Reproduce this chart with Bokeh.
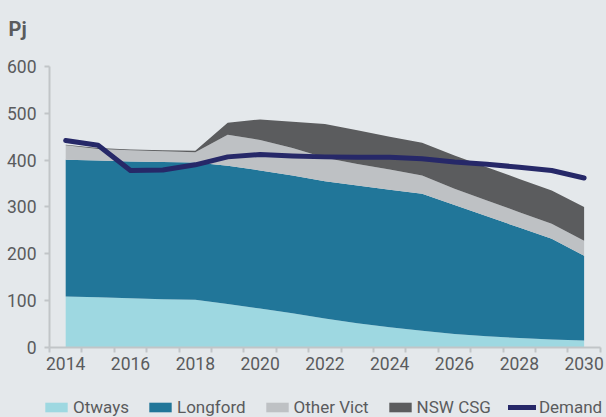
from bokeh.plotting import figure
from bokeh.models import ColumnDataSource, FixedTicker, Legend, LegendItem, Range1d, Label
from bokeh.core.properties import value
from bokeh.embed import file_html
from bokeh.resources import INLINE

# ---- data (PJ) ----
years = list(range(2014, 2031))
otways = [109, 107, 105, 103, 102, 93, 83, 73, 62, 52, 43, 36, 29, 24, 20, 17, 15]
longford = [292, 292, 292, 293, 293, 295, 295, 294, 293, 294, 294, 292, 275, 256, 236, 215, 181]
other_vict = [31, 25, 24, 23, 22, 66, 65, 59, 50, 46, 43, 39, 35, 34, 33, 32, 32]
nsw_csg = [1, 2, 2, 2, 3, 26, 44, 56, 72, 72, 70, 70, 71, 71, 71, 71, 72]
demand = [442, 432, 378, 379, 390, 407, 412, 409, 407, 406, 406, 403, 396, 391, 385, 378, 362]
series_names = ["Otways", "Longford", "Other Vict", "NSW CSG"]
y_ticks = [0, 100, 200, 300, 400, 500, 600]
unit_label = "Pj"

# ---- style ----
BG = "#e4e8eb"
AX = "#c1c5c8"
TXT = "#5a5b5d"
FONT = "Roboto"
COLORS = ["#9ed8e1", "#217699", "#bec1c4", "#5b5c5e"]
NAVY = "#262868"

src = ColumnDataSource(dict(year=years, otways=otways, longford=longford,
                            other_vict=other_vict, nsw_csg=nsw_csg, demand=demand))

X0 = years[0] - 0.5
p = figure(width=606, height=417, output_backend="svg", toolbar_location=None,
           x_range=Range1d(2011.988, 2030.691), y_range=Range1d(-149.5, 740.9),
           min_border_left=0, min_border_right=0, min_border_top=0, min_border_bottom=0,
           background_fill_color=BG, border_fill_color=BG, outline_line_color=None)
p.xgrid.visible = False
p.ygrid.visible = False

areas = p.varea_stack(stackers=["otways", "longford", "other_vict", "nsw_csg"], x="year",
                      color=COLORS, source=src)
dl = p.line("year", "demand", source=src, line_width=5, line_color=NAVY,
            line_join="round", line_cap="round")

# x axis (drawn at y = 0)
p.xaxis.fixed_location = 0
p.xaxis.bounds = (X0, years[-1] + 0.5)
p.xaxis.ticker = FixedTicker(ticks=years[::2], minor_ticks=[y - 0.5 for y in years] + [years[-1] + 0.5])
p.xaxis.major_tick_out = 0
p.xaxis.major_tick_in = 0
p.xaxis.minor_tick_out = 5
p.xaxis.minor_tick_in = 0
p.xaxis.minor_tick_line_color = AX
p.xaxis.minor_tick_line_width = 2
p.xaxis.axis_line_color = AX
p.xaxis.axis_line_width = 2
p.xaxis.major_label_standoff = 5

# y axis (drawn at the left edge of the categories)
p.yaxis.fixed_location = X0
p.yaxis.bounds = (y_ticks[0], y_ticks[-1])
p.yaxis.ticker = FixedTicker(ticks=y_ticks)
p.yaxis.major_tick_out = 5
p.yaxis.major_tick_in = 0
p.yaxis.major_tick_line_color = AX
p.yaxis.major_tick_line_width = 2
p.yaxis.minor_tick_line_color = None
p.yaxis.axis_line_color = AX
p.yaxis.axis_line_width = 2
p.yaxis.major_label_standoff = 8

for ax in (p.xaxis, p.yaxis):
    ax.major_label_text_font = FONT
    ax.major_label_text_font_size = "17.5px"
    ax.major_label_text_color = TXT

# unit label
p.add_layout(Label(x=2012.235, y=679, text=unit_label, text_font=FONT, text_font_style="bold",
                   text_font_size="20px", text_color=TXT, text_baseline="alphabetic",
                   text_align="left"))

items = [LegendItem(label=value(n), renderers=[r]) for n, r in zip(series_names, areas)]
items.append(LegendItem(label=value("Demand"), renderers=[dl]))
legend = Legend(items=items, orientation="horizontal", location=(42, 0),
                glyph_width=28, glyph_height=12, label_standoff=3, spacing=17,
                padding=0, margin=0, border_line_color=None, background_fill_alpha=0,
                label_text_font=FONT, label_text_font_size="17px", label_text_color=TXT)
p.add_layout(legend)

html = file_html(p, INLINE)
html = html.replace("</head>", "<style>body{background:" + BG + ";}</style></head>", 1)
open("out.html", "w").write(html)
